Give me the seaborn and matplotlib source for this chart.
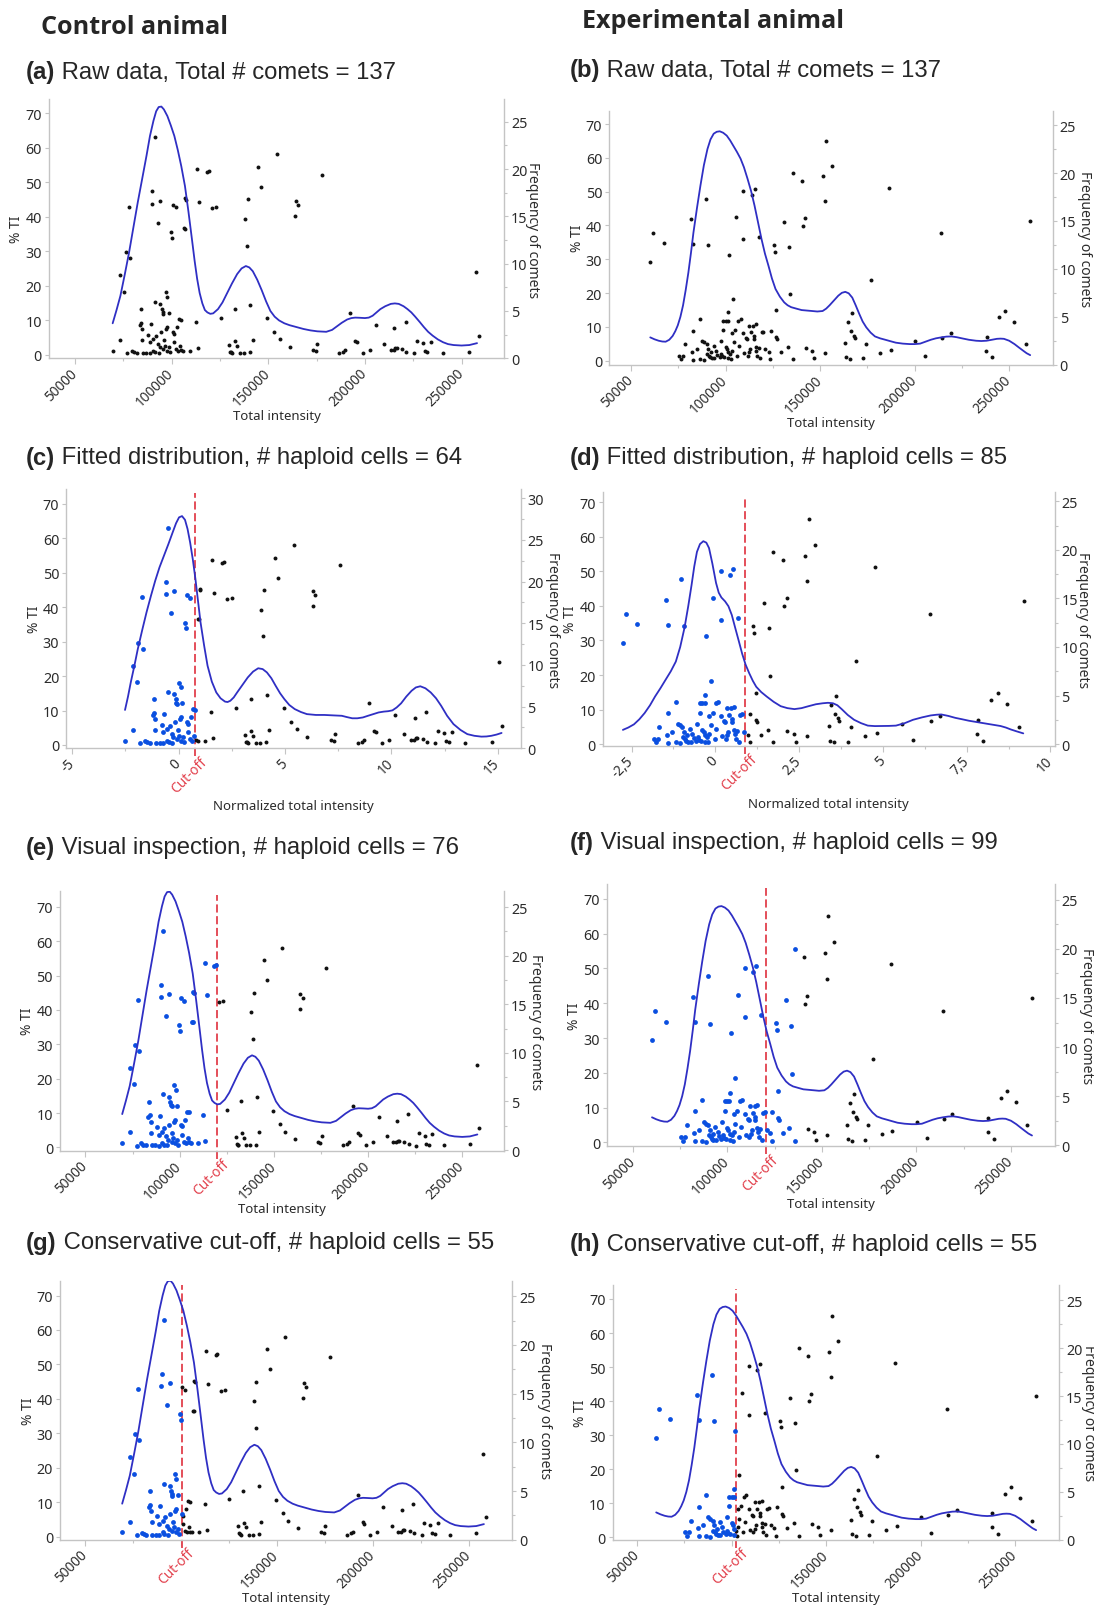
import matplotlib
matplotlib.use("Agg")
import matplotlib.pyplot as plt
from matplotlib.ticker import FixedLocator
import numpy as np
import pandas as pd
import seaborn as sns

sns.set_theme(style="white")
plt.rcParams['font.family'] = ['Noto Sans', 'DejaVu Sans']

# ------------------------------------------------------------------ data
# Control animal: total intensity and % tail intensity of the 137 comets
ctrl_ti = [69500, 73500, 73500, 75500, 76200, 77800, 78500, 77100, 79600, 80700,
           82000, 83900, 83400, 84700, 84800, 85200, 84100, 87900, 88800, 89300,
           90100, 89900, 91200, 91300, 90600, 91900, 90600, 91500, 92800, 93000,
           94200, 94200, 95100, 95300, 95700, 96000, 95700, 93900, 96900, 97800,
           97500, 97100, 98400, 98600, 99500, 100000, 100900, 102300, 101400, 101400,
           102900, 103800, 104700, 103200, 106000, 106300, 106900, 107000, 107400, 109600,
           112600, 113200, 114400, 113700, 118400, 119100, 120800, 123100, 125300, 129800,
           130300, 130700, 131200, 132700, 133000, 133900, 135400, 137500, 138100, 139000,
           139300, 140600, 140800, 141900, 144900, 146400, 149500, 153200, 154300, 156100,
           161200, 163900, 164100, 165200, 173300, 174500, 175400, 177600, 186600, 188600,
           189900, 192200, 194900, 195700, 198900, 202500, 205600, 209900, 213400, 214800,
           215700, 216600, 215200, 219300, 221100, 221500, 225600, 226900, 230100, 230900,
           232300, 234100, 240400, 254100, 257600, 259000,
           87000, 93300, 97500, 94600, 100500, 104200, 99100, 88800, 96700, 102300, 105100]
ctrl_pct = [1.25, 4.4, 23.0, 18.3, 29.7, 42.9, 28.0, 0.5, 1.2, 0.8,
            0.6, 13.3, 8.7, 7.5, 4.2, 0.6, 9.3, 5.9, 3.7, 9.0,
            47.3, 43.7, 63.0, 15.4, 4.6, 5.6, 1.25, 0.8, 38.2, 3.2,
            44.6, 14.75, 13.3, 12.3, 11.9, 4.3, 1.7, 2.2, 18.1, 16.7,
            8.0, 7.5, 12.05, 2.2, 35.5, 33.9, 43.4, 42.7, 6.1, 3.7,
            8.0, 10.4, 10.2, 1.25, 1.25, 36.6, 36.45, 45.3, 44.9, 1.25,
            9.45, 53.8, 44.2, 1.9, 52.8, 53.1, 42.4, 42.7, 10.8, 3.0,
            1.0, 0.8, 0.6, 13.4, 4.05, 2.7, 0.6, 0.6, 39.3, 31.5,
            45.0, 0.8, 14.6, 4.4, 54.4, 48.6, 10.6, 6.75, 58.1, 4.6,
            2.4, 40.3, 44.6, 43.4, 1.45, 1.15, 3.2, 52.2, 0.6, 1.0,
            1.5, 12.15, 4.15, 3.7, 0.6, 1.45, 8.7, 3.2, 1.45, 1.45,
            1.9, 1.9, 7.7, 1.7, 9.6, 1.0, 0.5, 4.05, 3.4, 1.05,
            0.8, 3.9, 0.6, 1.0, 24.1, 5.6,
            0.6, 0.6, 1.25, 6.6, 6.6, 2.7, 0.8, 0.5, 2.7, 1.7, 1.45]

# Experimental animal
exp_ti = [60150, 61800, 67300, 75600, 76600, 78400, 77500, 81700, 82700, 82700,
          82100, 82700, 86700, 87600, 88600, 89500, 90800, 90000, 90800, 91300,
          91900, 92600, 88600, 94100, 95000, 97400, 97800, 98300, 98700, 98700,
          100000, 101100, 101500, 100000, 100600, 101500, 101800, 102400, 103000, 103300,
          104100, 105200, 105500, 106600, 107900, 109200, 109200, 109400, 109800, 110700,
          111400, 112500, 112900, 112200, 113700, 114400, 114800, 114800, 115300, 115900,
          115900, 116800, 117700, 118100, 117500, 119900, 120800, 122700, 123800, 125500,
          126000, 126900, 126900, 127300, 129200, 131000, 132800, 133600, 134100, 135600,
          135600, 140600, 141100, 142200, 142600, 145800, 146700, 151500, 152600, 152600,
          153300, 156500, 163300, 163700, 164600, 165700, 166400, 166800, 167900, 168300,
          172900, 174500, 177100, 181700, 186300, 187300, 200200, 205700, 214000, 214600,
          219000, 237600, 238000, 240800, 244800, 248000, 252800, 258700, 261100,
          84900, 92300, 95600, 96900, 99300, 103300, 106100, 111600, 116200, 119000,
          107000, 86700, 93700, 113500, 101500, 104200, 90400, 123600]
exp_pct = [29.3, 37.8, 34.7, 1.5, 0.5, 4.9, 1.5, 41.8, 34.5, 8.9,
           2.7, 0.3, 12.3, 5.9, 5.4, 47.8, 34.1, 4.9, 3.6, 1.5,
           1.0, 0.7, 0.2, 0.7, 3.0, 5.9, 2.0, 1.3, 9.1, 11.8,
           11.8, 11.8, 14.3, 4.2, 3.6, 2.5, 31.3, 2.0, 0.5, 8.2,
           18.4, 9.1, 42.4, 11.8, 12.3, 50.2, 36.0, 8.2, 2.2, 6.6,
           6.4, 2.5, 3.5, 10.4, 49.0, 10.4, 7.2, 6.4, 50.8, 10.8,
           4.2, 1.5, 36.5, 0.7, 3.9, 8.6, 3.6, 2.7, 8.8, 34.3,
           32.3, 14.9, 6.9, 6.4, 2.7, 40.9, 4.1, 33.5, 19.7, 55.5,
           0.5, 53.2, 39.9, 42.2, 3.9, 3.0, 0.7, 54.5, 47.1, 2.2,
           65.1, 57.7, 5.1, 1.0, 11.4, 0.5, 8.8, 14.0, 7.4, 6.6,
           0.7, 4.9, 24.0, 2.3, 51.2, 3.2, 5.9, 1.3, 37.8, 6.6,
           8.1, 3.0, 7.1, 1.0, 12.8, 14.8, 11.5, 4.9, 41.4,
           3.5, 2.5, 1.7, 1.0, 1.0, 3.0, 1.5, 1.5, 3.0, 8.4,
           4.4, 0.5, 4.4, 8.4, 0.7, 5.4, 2.0, 0.5]

# normalisation used for the "fitted distribution" panels
ctrl_norm_mu, ctrl_norm_sd = 96480, 10706
exp_norm_mu, exp_norm_sd = 106480, 16788

# smoothed frequency-of-comets curves
ctrl_curve_ti = [69500, 71500, 73500, 75800, 78000, 80200, 82500, 84800, 87000, 88800,
                 90600, 92000, 93300, 94700, 96000, 97800, 99600, 101400, 103200, 105000,
                 106900, 108700, 110500, 111900, 113200, 114500, 115900, 117200, 118500, 120000,
                 121500, 124000, 126300, 128500, 131200, 133900, 136200, 138400, 140200, 142000,
                 144300, 146600, 148900, 151100, 153300, 155600, 158300, 161000, 164600, 168200,
                 171800, 175400, 180000, 183000, 185000, 188000, 190800, 193000, 195000, 197500,
                 200000, 202000, 204000, 206000, 208000, 210500, 213400, 215500, 217500, 220000,
                 222000, 224000, 226000, 228300, 230500, 232700, 235000, 237700, 240400, 243000,
                 245900, 250000, 254000, 256000, 258000]
ctrl_curve_freq = [3.7, 5.1, 6.6, 8.9, 11.2, 13.8, 16.5, 19.0, 21.4, 23.5,
                   25.1, 26.1, 26.55, 26.6, 26.3, 25.6, 24.6, 23.5, 22.0, 20.3,
                   18.2, 15.5, 12.6, 10.3, 8.4, 6.9, 5.8, 5.1, 4.85, 4.7,
                   4.75, 5.2, 5.9, 6.8, 7.9, 8.9, 9.5, 9.75, 9.6, 9.2,
                   8.3, 7.2, 6.0, 5.0, 4.4, 4.0, 3.7, 3.5, 3.3, 3.1,
                   2.95, 2.85, 2.8, 3.0, 3.3, 3.75, 4.1, 4.25, 4.3, 4.28,
                   4.25, 4.3, 4.5, 4.85, 5.2, 5.5, 5.75, 5.8, 5.75, 5.5,
                   5.2, 4.85, 4.4, 3.85, 3.3, 2.8, 2.4, 2.0, 1.7, 1.5,
                   1.4, 1.35, 1.4, 1.5, 1.6]
exp_curve_ti = [60150, 62400, 64600, 66500, 68300, 70200, 72000, 73400, 74700, 76100,
                77500, 78900, 80300, 81700, 83000, 84900, 86700, 88500, 90400, 92000,
                93700, 95300, 96900, 98700, 100600, 102400, 104200, 106000, 107900, 109700,
                111600, 113500, 115300, 117100, 119000, 120800, 122700, 124500, 126400, 128700,
                131000, 132800, 134700, 137400, 140200, 143000, 145800, 148500, 151300, 153200,
                155000, 157300, 159600, 161500, 163300, 165100, 167000, 168800, 170700, 172500,
                174400, 176700, 179000, 181700, 184500, 187200, 190000, 193700, 197400, 200000,
                202900, 205700, 208500, 211200, 214000, 216800, 219500, 222200, 225000, 228700,
                232500, 235200, 238000, 240800, 243500, 245400, 247200, 250000, 252800, 255100,
                257400, 259200, 261100]
exp_curve_freq = [2.85, 2.65, 2.5, 2.42, 2.4, 2.6, 3.0, 3.5, 4.1, 5.0,
                  6.2, 7.8, 9.6, 11.7, 13.8, 16.4, 18.7, 20.8, 22.5, 23.5,
                  24.1, 24.3, 24.35, 24.2, 23.9, 23.4, 22.8, 22.2, 21.5, 20.6,
                  19.4, 18.1, 16.6, 14.9, 13.1, 11.6, 10.3, 9.0, 7.9, 7.1,
                  6.5, 6.2, 6.0, 5.85, 5.7, 5.65, 5.6, 5.55, 5.6, 5.85,
                  6.2, 6.7, 7.2, 7.5, 7.6, 7.45, 7.0, 6.2, 5.3, 4.5,
                  3.9, 3.35, 2.95, 2.75, 2.6, 2.45, 2.3, 2.2, 2.15, 2.15,
                  2.2, 2.4, 2.6, 2.75, 2.85, 2.93, 2.95, 2.87, 2.75, 2.6,
                  2.5, 2.47, 2.5, 2.6, 2.7, 2.72, 2.7, 2.5, 2.15, 1.8,
                  1.46, 1.2, 1.0]
ctrl_norm_curve_x = [-2.52, -2.38, -2.25, -2.08, -1.92, -1.71, -1.51, -1.3, -1.1, -0.9,
                     -0.69, -0.48, -0.28, -0.12, 0.02, 0.16, 0.3, 0.42, 0.54, 0.67,
                     0.79, 0.91, 1.03, 1.2, 1.36, 1.56, 1.77, 1.97, 2.18, 2.3,
                     2.43, 2.59, 2.75, 3.0, 3.25, 3.5, 3.74, 3.95, 4.15, 4.36,
                     4.56, 4.77, 4.97, 5.2, 5.46, 5.75, 6.03, 6.45, 6.85, 7.25,
                     7.67, 7.9, 8.16, 8.4, 8.66, 8.9, 9.15, 9.4, 9.64, 9.85,
                     10.05, 10.25, 10.46, 10.7, 10.95, 11.15, 11.36, 11.6, 11.85, 12.1,
                     12.34, 12.62, 12.92, 13.25, 13.57, 13.9, 14.23, 14.47, 14.7, 14.95, 15.18]
ctrl_norm_curve_freq = [4.6, 6.2, 7.9, 9.9, 11.9, 14.2, 16.3, 18.3, 20.1, 21.7,
                        23.1, 24.5, 25.9, 27.0, 27.7, 27.85, 27.4, 26.3, 24.7, 22.6,
                        20.3, 17.7, 15.1, 12.3, 9.9, 8.0, 6.7, 6.0, 5.6, 5.55,
                        5.7, 6.1, 6.7, 7.6, 8.5, 9.2, 9.6, 9.5, 9.1, 8.4,
                        7.5, 6.6, 5.9, 5.2, 4.7, 4.35, 4.1, 4.0, 4.0, 3.95,
                        3.9, 3.75, 3.6, 3.6, 3.7, 3.9, 4.1, 4.3, 4.4, 4.45,
                        4.55, 4.9, 5.4, 6.2, 6.9, 7.3, 7.44, 7.2, 6.7, 6.0,
                        5.1, 3.9, 2.9, 2.2, 1.7, 1.5, 1.4, 1.42, 1.5, 1.65, 1.84]
exp_norm_curve_x = [-2.76, -2.6, -2.43, -2.27, -2.11, -1.95, -1.8, -1.64, -1.49, -1.33,
                    -1.18, -1.05, -0.92, -0.81, -0.71, -0.63, -0.55, -0.46, -0.36, -0.27,
                    -0.19, -0.09, 0.02, 0.1, 0.18, 0.29, 0.39, 0.49, 0.59, 0.7,
                    0.8, 0.9, 1.01, 1.12, 1.22, 1.37, 1.53, 1.74, 1.95, 2.15,
                    2.36, 2.57, 2.78, 3.0, 3.2, 3.36, 3.51, 3.64, 3.77, 3.95,
                    4.14, 4.35, 4.55, 4.76, 4.97, 5.18, 5.39, 5.65, 5.9, 6.17,
                    6.43, 6.6, 6.74, 6.95, 7.16, 7.37, 7.57, 7.83, 8.09, 8.3,
                    8.51, 8.67, 8.82, 9.0, 9.19]
exp_norm_curve_freq = [1.46, 1.7, 2.03, 2.55, 3.2, 4.0, 4.9, 5.75, 6.6, 7.5,
                       8.5, 10.0, 12.0, 14.2, 16.4, 18.3, 19.8, 20.6, 20.9, 20.75,
                       20.2, 18.6, 16.6, 15.6, 15.1, 14.7, 14.2, 13.3, 12.0, 10.6,
                       9.3, 8.2, 7.3, 6.5, 5.9, 5.35, 4.9, 4.35, 3.9, 3.7,
                       3.6, 3.7, 3.9, 4.1, 4.2, 4.25, 4.2, 4.0, 3.6, 3.0,
                       2.5, 2.15, 1.9, 1.85, 1.86, 1.87, 1.9, 2.15, 2.5, 2.75,
                       2.95, 3.02, 3.05, 2.9, 2.7, 2.55, 2.4, 2.25, 2.1, 1.98,
                       1.86, 1.7, 1.5, 1.3, 1.1]

# cut-offs (line position, haploid colouring threshold)
cut_c, cut_d = 0.78, 0.875
cut_e, cut_f, cut_g, cut_h = 119800, 120300, 100700, 102200
haploid_thr_f = 137000

headers = ["Control animal", "Experimental animal"]
panel_letters = ["(a)", "(b)", "(c)", "(d)", "(e)", "(f)", "(g)", "(h)"]
panel_texts = [" Raw data, Total # comets = 137", " Raw data, Total # comets = 137",
               " Fitted distribution, # haploid cells = 64", " Fitted distribution, # haploid cells = 85",
               " Visual inspection, # haploid cells = 76", " Visual inspection, # haploid cells = 99",
               " Conservative cut-off, # haploid cells = 55", " Conservative cut-off, # haploid cells = 55"]

raw_ticks = [50000, 100000, 150000, 200000, 250000]
raw_ticklabels = ["50000", "100000", "150000", "200000", "250000"]
raw_ticklabels_cons = ["50000", "", "150000", "200000", "250000"]
c_ticks = [-5, 0, 5, 10, 15]
c_ticklabels = ["-5", "0", "5", "10", "15"]
d_ticks = [-2.5, 0, 2.5, 5, 7.5, 10]
d_ticklabels = ["-2,5", "0", "2,5", "5", "7,5", "10"]

# ------------------------------------------------------------------ style
W, H = 1094, 1608
BLUE = "#0a4fe0"
BLACK = "#111111"
CURVE = "#2f2fc4"
RED = "#e2404c"
SPINE = "#c4c4c4"
TXT = "#2b2b2b"

fig = plt.figure(figsize=(W / 100, H / 100), dpi=100)
fig.patch.set_facecolor("white")

ctrl_ti_a = np.asarray(ctrl_ti, float)
exp_ti_a = np.asarray(exp_ti, float)

R6 = [0, 5, 10, 15, 20, 25]
panels = [
    dict(rect=(48.8, 100, 504.1, 359.3), x=ctrl_ti_a, y=ctrl_pct, cx=ctrl_curve_ti, cf=ctrl_curve_freq,
         xlim=(36460, 272000), yl=(-0.96, 74.06), yr=(0, 27.4), ticks=raw_ticks, tl=raw_ticklabels,
         rt=R6, cut=None, thr=None, xlabel="Total intensity", rlab=28),
    dict(rect=(609.1, 111.7, 1052.8, 365.7), x=exp_ti_a, y=exp_pct, cx=exp_curve_ti, cf=exp_curve_freq,
         xlim=(38380, 273060), yl=(-1.18, 73.96), yr=(0, 26.5), ticks=raw_ticks, tl=raw_ticklabels,
         rt=R6, cut=None, thr=None, xlabel="Total intensity", rlab=32),
    dict(rect=(66.3, 490, 520.5, 749.3), x=(ctrl_ti_a - ctrl_norm_mu) / ctrl_norm_sd, y=ctrl_pct,
         cx=ctrl_norm_curve_x, cf=ctrl_norm_curve_freq,
         xlim=(-5.28, 16.07), yl=(-0.97, 74.3), yr=(0, 31.1), ticks=c_ticks, tl=c_ticklabels,
         rt=[0, 5, 10, 15, 20, 25, 30], cut=cut_c, thr=cut_c, xlabel="Normalized total intensity", rlab=32),
    dict(rect=(602.8, 492.7, 1054.6, 746.7), x=(exp_ti_a - exp_norm_mu) / exp_norm_sd, y=exp_pct,
         cx=exp_norm_curve_x, cf=exp_norm_curve_freq,
         xlim=(-3.36, 10.125), yl=(-0.48, 73.1), yr=(-0.17, 26.0), ticks=d_ticks, tl=d_ticklabels,
         rt=R6, cut=cut_d, thr=cut_d, xlabel="Normalized total intensity", rlab=28),
    dict(rect=(60.0, 891.7, 504.1, 1151.7), x=ctrl_ti_a, y=ctrl_pct, cx=ctrl_curve_ti, cf=ctrl_curve_freq,
         xlim=(36480, 272200), yl=(-0.97, 74.7), yr=(-0.07, 26.7), ticks=raw_ticks, tl=raw_ticklabels,
         rt=R6, cut=cut_e, thr=cut_e, xlabel="Total intensity", rlab=31),
    dict(rect=(607.0, 885, 1054.6, 1147.3), x=exp_ti_a, y=exp_pct, cx=exp_curve_ti, cf=exp_curve_freq,
         xlim=(36350, 273060), yl=(-1.15, 74.3), yr=(-0.1, 26.6), ticks=raw_ticks, tl=raw_ticklabels,
         rt=R6, cut=cut_f, thr=haploid_thr_f, xlabel="Total intensity", rlab=32),
    dict(rect=(60.0, 1281.7, 512.1, 1540.7), x=ctrl_ti_a, y=ctrl_pct, cx=ctrl_curve_ti, cf=ctrl_curve_freq,
         xlim=(37100, 272700), yl=(-0.87, 74.3), yr=(0, 26.6), ticks=raw_ticks, tl=raw_ticklabels_cons,
         rt=R6, cut=cut_g, thr=cut_g, xlabel="Total intensity", rlab=32),
    dict(rect=(612.6, 1286, 1059.1, 1540.7), x=exp_ti_a, y=exp_pct, cx=exp_curve_ti, cf=exp_curve_freq,
         xlim=(37090, 273250), yl=(-0.69, 74.1), yr=(0, 26.6), ticks=raw_ticks, tl=raw_ticklabels_cons,
         rt=R6, cut=cut_h, thr=cut_h, xlabel="Total intensity", rlab=29),
]

XTICKFONT = 9.8
YTICKFONT = 10.3


def style_spines(ax, sides):
    for s in ["left", "right", "top", "bottom"]:
        if s in sides:
            ax.spines[s].set_visible(True)
            ax.spines[s].set_color(SPINE)
            ax.spines[s].set_linewidth(1.0)
        else:
            ax.spines[s].set_visible(False)


def make_panel(p):
    l, t, r, b = p["rect"]
    wpx, hpx = r - l, b - t
    ax = fig.add_axes([l / W, 1 - b / H, wpx / W, hpx / H])
    xs = np.asarray(p["x"], float)
    ys = np.asarray(p["y"], float)
    hap = np.zeros(len(xs), bool) if p["thr"] is None else xs < p["thr"]
    df = pd.DataFrame({"x": xs, "y": ys, "hap": hap})
    sns.scatterplot(data=df[~df.hap], x="x", y="y", color=BLACK, s=8, linewidth=0, ax=ax, zorder=3)
    if hap.any():
        sns.scatterplot(data=df[df.hap], x="x", y="y", color=BLUE, s=12, linewidth=0, ax=ax, zorder=3)
    if p["cut"] is not None:
        ax.axvline(p["cut"], ymin=-8 / hpx, ymax=0.985, color=RED, lw=1.3, dashes=(4.5, 2.0),
                   zorder=2, clip_on=False)
        ax.annotate("Cut-off", xy=(p["cut"], 0), xycoords=ax.get_xaxis_transform(),
                    xytext=(7, -8), textcoords="offset points", rotation=45, ha="right",
                    va="center", rotation_mode="anchor", color=RED, fontsize=XTICKFONT)
    ax.set_xlim(*p["xlim"])
    ax.set_ylim(*p["yl"])
    ax.xaxis.set_major_locator(FixedLocator(p["ticks"]))
    ax.set_xticklabels(p["tl"])
    step = p["ticks"][1] - p["ticks"][0]
    ax.xaxis.set_minor_locator(FixedLocator([v + step / 2 for v in [p["ticks"][0] - step] + list(p["ticks"])]))
    ax.yaxis.set_major_locator(FixedLocator([0, 10, 20, 30, 40, 50, 60, 70]))
    for lab in ax.get_xticklabels():
        lab.set_rotation(45)
        lab.set_ha("right")
        lab.set_va("center")
        lab.set_rotation_mode("anchor")
    ax.tick_params(axis="x", which="major", length=4, width=0.8, color=SPINE, labelsize=XTICKFONT,
                   labelcolor=TXT, pad=5, direction="out", bottom=True)
    ax.tick_params(axis="x", which="minor", length=2.5, width=0.8, color=SPINE, direction="out", bottom=True)
    ax.tick_params(axis="y", which="major", length=3, width=0.8, color=SPINE, labelsize=YTICKFONT,
                   labelcolor=TXT, pad=2, direction="out", left=True)
    ax.set_xlabel(p["xlabel"], fontsize=9.5, color=TXT)
    ax.xaxis.set_label_coords(0.5, -57.5 / hpx)
    ax.xaxis.label.set_va("center")
    ax.set_ylabel("% TI", fontsize=10, color=TXT)
    ax.yaxis.set_label_coords(-32 / wpx, 0.5)
    ax.yaxis.label.set_va("center")
    style_spines(ax, ["left", "bottom"])
    ax.grid(False)

    ax2 = ax.twinx()
    sns.lineplot(x=p["cx"], y=p["cf"], ax=ax2, color=CURVE, lw=1.3, sort=False, zorder=4)
    ax2.set_ylim(*p["yr"])
    ax2.yaxis.set_major_locator(FixedLocator(p["rt"]))
    ax2.yaxis.set_minor_locator(FixedLocator([v + 2.5 for v in p["rt"]]))
    ax2.tick_params(axis="y", which="major", length=3, width=0.8, color=SPINE, labelsize=YTICKFONT,
                    labelcolor=TXT, pad=2, direction="out", right=True)
    ax2.tick_params(axis="y", which="minor", length=2, width=0.8, color=SPINE, direction="out", right=True)
    ax2.set_ylabel("Frequency of comets", rotation=270, fontsize=10, color=TXT)
    ax2.yaxis.set_label_coords(1 + p["rlab"] / wpx, 0.5)
    ax2.yaxis.label.set_va("center")
    style_spines(ax2, ["right"])
    ax2.grid(False)
    return ax


for p in panels:
    make_panel(p)

# headers
fig.text(41 / W, 1 - 27 / H, headers[0], fontsize=18.1, fontweight="bold", family=["Open Sans", "DejaVu Sans"],
         va="center", ha="left")
fig.text(582 / W, 1 - 22 / H, headers[1], fontsize=18.1, fontweight="bold", family=["Open Sans", "DejaVu Sans"],
         va="center", ha="left")

# panel titles
title_pos = [(26, 73), (569.7, 70.7), (26, 458.3), (569.7, 458.3),
             (26, 848.3), (569.7, 843.3), (26, 1243.3), (569.7, 1245)]
renderer = fig.canvas.get_renderer()
for (x0, yc), letter, txt in zip(title_pos, panel_letters, panel_texts):
    t1 = fig.text(x0 / W, 1 - yc / H, letter, fontsize=17.2, fontweight="bold",
                  family=["Liberation Sans", "DejaVu Sans"], va="center", ha="left")
    bb = t1.get_window_extent(renderer)
    fig.text(bb.x1 / W, 1 - yc / H, txt, fontsize=17.2, family=["Liberation Sans", "DejaVu Sans"],
             va="center", ha="left")

fig.savefig("out.png", dpi=100, facecolor="white")
